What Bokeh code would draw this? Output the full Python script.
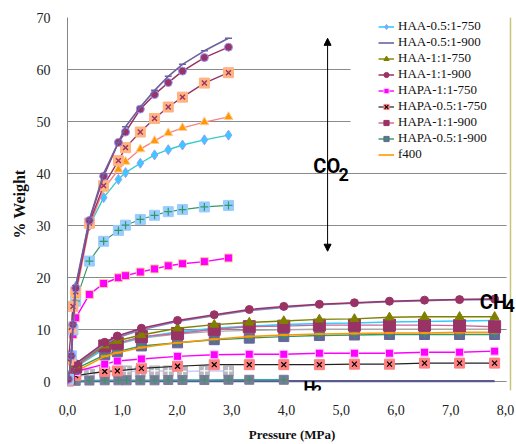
from bokeh.plotting import figure
from bokeh.models import (Range1d, FixedTicker, Legend, LegendItem, Label,
                          Arrow, NormalHead, BoxAnnotation, Span)
from bokeh.embed import file_html
from bokeh.resources import INLINE

# ---------------- data ----------------
X_TICKS = [0, 1, 2, 3, 4, 5, 6, 7, 8]
X_TICK_LABELS = ["0,0", "1,0", "2,0", "3,0", "4,0", "5,0", "6,0", "7,0", "8,0"]
Y_TICKS = [0, 10, 20, 30, 40, 50, 60, 70]

# CO2 isotherms (pressure MPa)
P_CO2 = [0.02, 0.07, 0.10, 0.15, 0.40, 0.66, 0.93, 1.06, 1.33, 1.59, 1.84, 2.10, 2.50, 2.94]
CO2_HAA_05_900 = [0.5, 5.0, 11.0, 18.5, 31.2, 40.0, 46.0, 49.0, 52.8, 56.0, 58.7, 61.0, 63.6, 66.0]
CO2_HAA_1_900 = [0.5, 5.0, 11.0, 18.0, 31.0, 39.5, 46.0, 48.0, 52.4, 55.2, 57.5, 59.7, 62.3, 64.3]
CO2_HAPA_05_750 = [4.2, 10.5, 14.5, 17.3, 30.5, 37.7, 42.5, 45.0, 48.0, 50.6, 52.8, 54.7, 57.4, 59.4]
CO2_ORANGE = [0.5, 4.5, 10.0, 16.5, 30.0, 37.0, 40.8, 42.3, 44.7, 46.3, 47.8, 48.8, 49.9, 50.9]
CO2_HAA_05_750 = [0.5, 5.5, 11.0, 18.3, 30.0, 35.4, 38.9, 40.2, 42.0, 43.6, 44.6, 45.5, 46.5, 47.4]
CO2_BLUE = [0.5, 5.0, 10.0, 15.5, 23.2, 27.0, 29.1, 30.1, 31.2, 32.0, 32.7, 33.1, 33.6, 33.9]
CO2_HAPA_1_750 = [0.2, 5.1, 9.1, 12.3, 16.8, 18.9, 20.0, 20.4, 21.1, 21.7, 22.3, 22.7, 23.1, 23.8]

# CH4 isotherms
P_CH4 = [0.02, 0.15, 0.68, 0.91, 1.35, 2.01, 2.68, 3.32, 3.95, 4.60, 5.24, 5.88, 6.52, 7.16, 7.80]
CH4_HAA_1_900 = [0.8, 3.5, 7.6, 8.8, 10.3, 11.8, 12.9, 13.9, 14.5, 14.9, 15.2, 15.5, 15.7, 15.8, 15.9]
CH4_HAA_05_900 = [0.8, 3.3, 7.3, 8.5, 10.0, 11.6, 12.7, 13.7, 14.3, 14.8, 15.1, 15.4, 15.6, 15.8, 15.8]
CH4_HAA_1_750 = [0.7, 3.2, 7.0, 7.9, 9.0, 10.3, 11.0, 11.4, 11.7, 12.0, 12.1, 12.4, 12.5, 12.5, 12.5]
CH4_HAA_05_750 = [0.7, 3.0, 6.5, 7.4, 8.5, 9.6, 10.3, 10.7, 11.0, 11.2, 11.3, 11.5, 11.6, 11.7, 11.8]
CH4_HAPA_1_900 = [0.7, 2.9, 6.9, 7.4, 8.7, 9.3, 10.1, 10.6, 10.7, 10.9, 10.9, 10.9, 10.9, 10.8, 10.6]
CH4_GRAY = [0.6, 2.8, 6.4, 7.2, 8.4, 9.2, 9.7, 9.9, 10.0, 10.1, 10.1, 10.1, 10.1, 10.1, 10.1]
CH4_HAPA_05_900 = [0.5, 2.5, 5.2, 5.8, 6.9, 7.5, 8.1, 8.4, 8.7, 8.9, 9.0, 9.1, 9.1, 9.1, 9.1]
CH4_F400 = [0.4, 2.0, 4.9, 5.6, 6.6, 7.5, 8.2, 8.7, 9.0, 9.2, 9.3, 9.4, 9.4, 9.5, 9.5]
CH4_HAPA_1_750 = [0.3, 2.0, 3.4, 4.0, 4.4, 4.9, 5.2, 5.3, 5.3, 5.5, 5.5, 5.5, 5.7, 5.7, 5.9]
CH4_HAPA_05_750 = [0.2, 1.2, 2.0, 2.1, 2.6, 3.0, 3.3, 3.3, 3.3, 3.3, 3.4, 3.4, 3.6, 3.6, 3.6]

# H2 isotherms
P_H2 = [0.02, 0.15, 0.40, 0.68, 0.93, 1.08, 1.33, 1.59, 1.84, 2.10, 2.50, 2.94]
H2_GRAY = [0.3, 0.8, 1.5, 1.9, 1.9, 2.1, 2.0, 2.1, 2.1, 2.0, 2.1, 2.1]
P_H2_B = [0.02, 0.15, 0.40, 0.68, 0.93, 1.08, 1.33, 1.59, 1.84, 2.10, 2.50, 2.94, 3.32, 3.95]
H2_HAPA_05_900 = [0.1, 0.2, 0.25, 0.3, 0.3, 0.3, 0.3, 0.3, 0.35, 0.35, 0.35, 0.4, 0.4, 0.4]
H2_HAA_05_900 = [0.1, 0.1, 0.15, 0.15, 0.15, 0.15, 0.15, 0.15, 0.15, 0.15, 0.15, 0.15, 0.15, 0.15, 0.15]

SERIF = "Liberation Serif"
NARROW = "'Liberation Sans Narrow', Roboto, sans-serif"

# ---------------- figure ----------------
p = figure(width=516, height=444, output_backend="svg", toolbar_location=None,
           x_range=Range1d(0, 8.2), y_range=Range1d(-1.66, 70),
           min_border_left=67, min_border_right=0, min_border_top=17, min_border_bottom=52)
p.outline_line_color = None
p.xgrid.grid_line_color = None
p.ygrid.grid_line_color = "#8a8a8a"
p.ygrid.ticker = FixedTicker(ticks=Y_TICKS)

p.xaxis.ticker = FixedTicker(ticks=X_TICKS)
p.xaxis.major_label_overrides = dict(zip(X_TICKS, X_TICK_LABELS))
p.xaxis.bounds = (0, 8)
p.yaxis.ticker = FixedTicker(ticks=Y_TICKS)
p.yaxis.bounds = (0, 70)
for ax in (p.xaxis, p.yaxis):
    ax.axis_line_color = "#868686"
    ax.major_tick_line_color = None
    ax.minor_tick_line_color = None
    ax.major_label_text_font = SERIF
    ax.major_label_text_font_size = "14px"
    ax.major_label_text_color = "#222222"
    ax.axis_label_text_font = SERIF
    ax.axis_label_text_font_style = "bold"
    ax.axis_label_text_color = "#111111"
p.xaxis.axis_line_color = None          # the 0 grid line acts as the x axis
p.xaxis.axis_label = "Pressure (MPa)"
p.yaxis.axis_label = "% Weight"
p.xaxis.axis_label_text_font_size = "13px"
p.yaxis.axis_label_text_font_size = "16px"
p.xaxis.major_label_standoff = 8
p.xaxis.axis_label_standoff = 9
p.yaxis.major_label_standoff = 11
p.yaxis.axis_label_standoff = 6


def series(x, y, color, width=1.4, marks=()):
    rs = [p.line(x, y, line_color=color, line_width=width)]
    for m in marks:
        rs.append(p.scatter(x, y, **m))
    return rs


# H2
r_h2_gray = series(P_H2, H2_GRAY, "#ccccff", 1.4,
                   [dict(marker="square", size=10, fill_color="#b8b8c0", line_color="#b8b8c0"),
                    dict(marker="cross", size=8, line_color="white", line_width=1.2)])
r_h2_slate = series(P_CH4, H2_HAA_05_900, "#5a5a8c", 2.2)
r_h2_b = series(P_H2_B, H2_HAPA_05_900, "#33aaaa", 1.6,
                [dict(marker="square", size=9, fill_color="#7a7a9a", line_color="#7a7a9a"),
                 dict(marker="cross", size=7, line_color="#339966", line_width=1.2)])

# CH4
r_ch4_x = series(P_CH4, CH4_HAPA_05_750, "#222222", 1.2,
                 [dict(marker="square", size=10, fill_color="#ff8080", line_color="#ff8080"),
                  dict(marker="x", size=7, line_color="black", line_width=1.2)])
r_ch4_mag = series(P_CH4, CH4_HAPA_1_750, "#ff00ff", 1.4,
                   [dict(marker="square", size=8, fill_color="#ff00ff", line_color="#ffccff")])
r_ch4_green = series(P_CH4, CH4_HAPA_05_900, "#339966", 1.4,
                     [dict(marker="square", size=10, fill_color="#666699", line_color="#666699"),
                      dict(marker="cross", size=7, line_color="#339966", line_width=1.2)])
r_ch4_f400 = series(P_CH4, CH4_F400, "#ff9900", 1.6,
                    [dict(marker="dash", size=8, line_color="#ff9900", line_width=2)])
r_ch4_gray = series(P_CH4, CH4_GRAY, "#a8a8a8", 1.4)
r_ch4_cyan = series(P_CH4, CH4_HAA_05_750, "#33ccff", 1.6)
r_ch4_msq = series(P_CH4, CH4_HAPA_1_900, "#cc6699", 1.4,
                   [dict(marker="square", size=12, fill_color="#993366", line_color="#993366")])
r_ch4_olive = series(P_CH4, CH4_HAA_1_750, "#808000", 1.4,
                     [dict(marker="triangle", size=9, fill_color="#808000", line_color="#808000")])
r_ch4_purple = series(P_CH4, CH4_HAA_05_900, "#8080c0", 1.6)
r_ch4_circ = series(P_CH4, CH4_HAA_1_900, "#993366", 1.5,
                    [dict(marker="circle", size=8, fill_color="#993366", line_color="#993366")])

# CO2
r_co2_mag = series(P_CO2, CO2_HAPA_1_750, "#ff00ff", 1.4,
                   [dict(marker="square", size=8, fill_color="#ff00ff", line_color="#ffcc99")])
r_co2_blue = series(P_CO2, CO2_BLUE, "#339966", 1.2,
                    [dict(marker="square", size=10, fill_color="#99ccff", line_color="#99ccff"),
                     dict(marker="cross", size=8, line_color="#339966", line_width=1.2)])
r_co2_cyan = series(P_CO2, CO2_HAA_05_750, "#33cccc", 1.4,
                    [dict(marker="diamond", size=10, fill_color="#33ccff", line_color="#9999ff")])
r_co2_orange = series(P_CO2, CO2_ORANGE, "#ff8080", 1.4,
                      [dict(marker="triangle", size=9, fill_color="#ff9900", line_color="#ffcc99")])
r_co2_x = series(P_CO2, CO2_HAPA_05_750, "#993366", 1.4,
                 [dict(marker="square", size=10, fill_color="#ffb380", line_color="#ffb380"),
                  dict(marker="x", size=7, line_color="#993366", line_width=1.4)])
r_co2_circ = series(P_CO2, CO2_HAA_1_900, "#993366", 1.5,
                    [dict(marker="circle", size=8, fill_color="#993366", line_color="#9999ff")])
r_co2_top = series(P_CO2, CO2_HAA_05_900, "#6f5fa0", 1.6,
                   [dict(marker="dash", size=7, line_color="#6f5fa0", line_width=1.5)])

# white panels: behind the legend, and right of the plot area
p.add_layout(BoxAnnotation(left=5.17, bottom=42, fill_color="white", fill_alpha=1.0,
                           line_color=None))
p.add_layout(BoxAnnotation(left=8.02, fill_color="white", fill_alpha=1.0, line_color=None))
# chart-area border on the right
p.add_layout(Span(location=8.09, dimension="height", line_color="#c9c47c", line_width=1.5))

# CO2 double arrow
p.add_layout(Arrow(x_start=4.75, y_start=25.1, x_end=4.75, y_end=66.0,
                   line_color="black", line_width=1,
                   start=NormalHead(size=7, fill_color="black", line_color="black"),
                   end=NormalHead(size=7, fill_color="black", line_color="black")))


def gas_label(x, y, text, size):
    p.add_layout(Label(x=x, y=y, text=text, text_font=NARROW, text_font_size=size,
                       text_font_style="bold", text_color="black", text_baseline="alphabetic",
                       background_fill_color=None))


gas_label(4.49, 41.4, "CO", "20px")
gas_label(4.95, 39.8, "2", "18px")
gas_label(7.53, 15.35, "CH", "20px")
gas_label(7.98, 14.6, "4", "18px")
gas_label(4.31, -0.9, "H", "17px")
gas_label(4.49, -1.6, "2", "15px")

# legend
items = [
    LegendItem(label="HAA-0.5:1-750", renderers=[r_ch4_cyan[0], r_co2_cyan[1]]),
    LegendItem(label="HAA-0.5:1-900", renderers=[r_co2_top[0]]),
    LegendItem(label="HAA-1:1-750", renderers=r_ch4_olive),
    LegendItem(label="HAA-1:1-900", renderers=r_ch4_circ),
    LegendItem(label="HAPA-1:1-750", renderers=r_ch4_mag),
    LegendItem(label="HAPA-0.5:1-750", renderers=r_ch4_x),
    LegendItem(label="HAPA-1:1-900", renderers=r_ch4_msq),
    LegendItem(label="HAPA-0.5:1-900", renderers=r_ch4_green),
    LegendItem(label="f400", renderers=[r_ch4_f400[0]]),
]
legend = Legend(items=items, location=(308, 225), padding=3, spacing=0,
                glyph_width=16, glyph_height=13, label_height=13, label_standoff=4,
                label_text_font=SERIF, label_text_font_size="13px",
                label_text_color="#111111", background_fill_alpha=0,
                border_line_alpha=0, margin=0)
p.add_layout(legend)

open("out.html", "w").write(file_html(p, INLINE))
